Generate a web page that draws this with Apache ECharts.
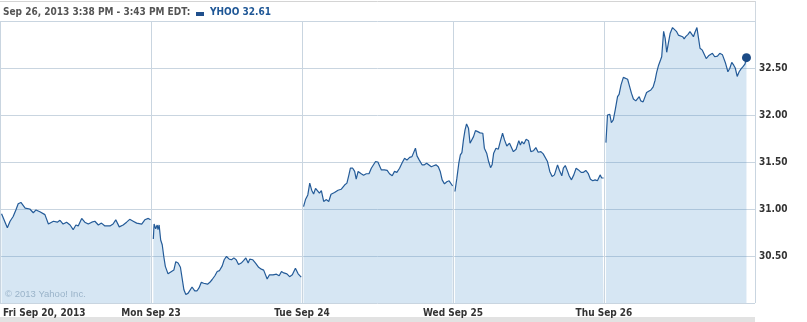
<!DOCTYPE html>
<html>
<head>
<meta charset="utf-8">
<script src="https://cdn.jsdelivr.net/npm/echarts@6/dist/echarts.min.js"></script>
<style>
html,body{margin:0;padding:0;background:#fff;}
#chart{width:807px;height:322px;}
</style>
</head>
<body>
<div id="chart"></div>
<script>
// ---- data ----
const ticker = 'YHOO';
const headerText = 'Sep 26, 2013 3:38 PM - 3:43 PM EDT:';
const copyright = '\u00A9 2013 Yahoo! Inc.';
const dayLabels = ['Fri Sep 20, 2013', 'Mon Sep 23', 'Tue Sep 24', 'Wed Sep 25', 'Thu Sep 26'];
const priceTicks = [30.5, 31.0, 31.5, 32.0, 32.5];
const minutesPerSession = 390;

// [minutes after 9:30 open, price]
const friSep20 = [[4,30.95],[9,30.96],[19,30.80],[26,30.87],[34,30.92],[41,30.99],[47,31.055],[54,31.07],[58,31.08],[65,31.01],[77,31.00],[86,30.96],[93,30.99],[103,30.97],[116,30.94],[125,30.84],[138,30.87],[148,30.86],[155,30.88],[163,30.84],[172,30.86],[181,30.83],[189,30.78],[196,30.83],[202,30.82],[211,30.90],[219,30.86],[228,30.84],[237,30.86],[245,30.87],[254,30.83],[262,30.85],[271,30.82],[284,30.82],[292,30.84],[299,30.885],[308,30.81],[318,30.83],[327,30.86],[335,30.89],[344,30.87],[353,30.85],[366,30.84],[374,30.885],[383,30.90],[389,30.885]];
const monSep23 = [[6,30.68],[8,30.84],[12,30.79],[16,30.83],[18,30.78],[21,30.83],[25,30.67],[29,30.62],[33,30.495],[37,30.39],[44,30.31],[53,30.335],[59,30.35],[64,30.44],[70,30.425],[76,30.38],[80,30.37],[85,30.14],[90,30.09],[96,30.105],[100,30.10],[106,30.17],[113,30.13],[119,30.13],[124,30.16],[130,30.22],[136,30.21],[141,30.23],[146,30.20],[152,30.22],[158,30.25],[165,30.29],[171,30.335],[177,30.345],[184,30.395],[189,30.46],[195,30.495],[202,30.467],[208,30.46],[214,30.48],[220,30.46],[226,30.41],[233,30.425],[239,30.45],[245,30.48],[251,30.425],[255,30.467],[263,30.46],[270,30.425],[278,30.38],[285,30.36],[291,30.35],[296,30.35],[300,30.255],[306,30.30],[315,30.30],[324,30.307],[331,30.29],[337,30.335],[343,30.32],[347,30.34],[351,30.31],[358,30.28],[365,30.30],[373,30.37],[380,30.31],[388,30.275]];
const tueSep24 = [[4,31.026],[9,31.10],[15,31.15],[20,31.275],[25,31.20],[30,31.16],[35,31.22],[40,31.21],[45,31.17],[50,31.196],[56,31.08],[63,31.10],[69,31.08],[75,31.157],[84,31.175],[93,31.20],[101,31.21],[110,31.255],[116,31.275],[121,31.36],[125,31.434],[131,31.434],[136,31.40],[140,31.317],[145,31.40],[153,31.375],[159,31.36],[166,31.375],[173,31.375],[179,31.434],[183,31.416],[190,31.505],[196,31.50],[200,31.48],[205,31.416],[213,31.416],[220,31.41],[226,31.375],[233,31.353],[239,31.40],[245,31.39],[252,31.434],[259,31.494],[265,31.54],[271,31.52],[278,31.55],[284,31.557],[288,31.575],[293,31.647],[297,31.565],[303,31.52],[310,31.47],[316,31.47],[322,31.487],[327,31.505],[334,31.45],[340,31.46],[346,31.47],[352,31.45],[357,31.40],[362,31.31],[368,31.267],[374,31.29],[380,31.30],[385,31.28],[389,31.245]];
const wedSep25 = [[5,31.186],[10,31.328],[15,31.487],[19,31.575],[23,31.60],[27,31.735],[31,31.84],[35,31.905],[40,31.86],[44,31.70],[48,31.706],[53,31.77],[58,31.834],[64,31.823],[70,31.81],[77,31.806],[81,31.647],[87,31.594],[92,31.505],[97,31.44],[101,31.47],[105,31.594],[111,31.647],[117,31.636],[122,31.717],[128,31.806],[133,31.735],[139,31.67],[146,31.70],[150,31.68],[156,31.61],[163,31.636],[170,31.727],[174,31.68],[178,31.717],[183,31.692],[189,31.742],[195,31.727],[201,31.61],[208,31.62],[214,31.653],[220,31.604],[227,31.61],[233,31.586],[238,31.60],[244,31.505],[250,31.40],[256,31.345],[262,31.363],[266,31.416],[270,31.47],[275,31.41],[281,31.353],[285,31.434],[290,31.462],[296,31.40],[300,31.353],[306,31.31],[312,31.363],[318,31.434],[324,31.416],[331,31.39],[337,31.39],[343,31.41],[349,31.38],[355,31.317],[361,31.30],[367,31.31],[373,31.30],[380,31.363],[384,31.33],[389,31.33]];
const thuSep26 = [[5,31.706],[9,32.00],[15,32.008],[19,31.92],[24,31.947],[29,32.054],[35,32.195],[39,32.22],[44,32.32],[50,32.40],[55,32.39],[61,32.38],[65,32.32],[71,32.23],[76,32.17],[82,32.15],[86,32.15],[91,32.195],[95,32.15],[101,32.14],[105,32.14],[110,32.24],[115,32.256],[121,32.266],[127,32.30],[132,32.37],[136,32.454],[141,32.53],[146,32.585],[149,32.62],[154,32.89],[158,32.815],[162,32.667],[166,32.76],[171,32.87],[177,32.93],[182,32.94],[187,32.89],[192,32.85],[197,32.858],[203,32.833],[207,32.81],[211,32.833],[217,32.858],[222,32.886],[227,32.87],[231,32.833],[235,32.88],[240,32.93],[244,32.82],[248,32.71],[254,32.69],[259,32.68],[264,32.60],[270,32.63],[275,32.62],[280,32.656],[286,32.62],[293,32.627],[299,32.656],[306,32.64],[310,32.63],[314,32.55],[320,32.46],[325,32.497],[330,32.56],[335,32.53],[339,32.50],[344,32.41],[349,32.46],[354,32.49],[359,32.514],[364,32.54],[368,32.61]];
const sessions = [friSep20, monSep23, tueSep24, wedSep25, thuSep26];

// ---- build series data (breaks between sessions) ----
const lineData = [];
sessions.forEach((s, d) => {
  s.forEach(([m, p]) => lineData.push([d * minutesPerSession + m, p]));
  if (d < sessions.length - 1) lineData.push([(d + 1) * minutesPerSession, '-']);
});
const lastSession = sessions[sessions.length - 1];
const lastPt = lastSession[lastSession.length - 1];
const lastPoint = [(sessions.length - 1) * minutesPerSession + lastPt[0], lastPt[1]];

const FONT = '"DejaVu Sans Condensed", "DejaVu Sans", sans-serif';
const gridColor = '#c9d5e0';

const chart = echarts.init(document.getElementById('chart'), null, {renderer: 'canvas'});
chart.setOption({
  animation: false,
  backgroundColor: '#ffffff',
  grid: {left: 0, top: 21, width: 755, height: 282, containLabel: false},
  xAxis: {
    type: 'value',
    min: 0,
    max: minutesPerSession * sessions.length,
    interval: minutesPerSession,
    axisLine: {show: false},
    axisTick: {show: false},
    splitLine: {show: true, lineStyle: {color: gridColor, width: 1}},
    axisLabel: {
      color: '#333333',
      fontFamily: FONT,
      fontWeight: 'bold',
      fontSize: 10,
      margin: 5,
      showMaxLabel: false,
      alignMinLabel: 'left',
      formatter: function (v) {
        const i = Math.round(v / minutesPerSession);
        if (i === 0) return '{first|' + dayLabels[0] + '}';
        return dayLabels[i] || '';
      },
      rich: {first: {padding: [0, 0, 0, 3], color: '#333333', fontFamily: FONT, fontWeight: 'bold', fontSize: 10}}
    }
  },
  yAxis: {
    type: 'value',
    position: 'right',
    min: 30,
    max: 33,
    interval: 0.5,
    axisLine: {show: false},
    axisTick: {show: false},
    splitLine: {show: true, lineStyle: {color: gridColor, width: 1}},
    axisLabel: {
      color: '#333333',
      fontFamily: FONT,
      fontWeight: 'bold',
      fontSize: 10,
      margin: 4,
      showMinLabel: false,
      showMaxLabel: false,
      formatter: function (v) {
        return priceTicks.some(t => Math.abs(t - v) < 1e-6) ? v.toFixed(2) : '';
      }
    }
  },
  series: [
    {
      type: 'line',
      data: lineData,
      showSymbol: false,
      symbol: 'none',
      connectNulls: false,
      lineStyle: {color: '#245b98', width: 1.2},
      areaStyle: {color: 'rgb(70,140,200)', opacity: 0.22, origin: 'start'},
      z: 2
    },
    {
      type: 'scatter',
      data: [lastPoint],
      symbolSize: 9,
      itemStyle: {color: '#1c4b86', opacity: 1},
      z: 4
    }
  ],
  graphic: [
    {type: 'line', shape: {x1: 0, y1: 1.5, x2: 755, y2: 1.5}, style: {stroke: '#d4d4d4', lineWidth: 1}, silent: true},
    {type: 'line', shape: {x1: 755.5, y1: 1, x2: 755.5, y2: 21}, style: {stroke: '#d0d8e0', lineWidth: 1}, silent: true},
    {type: 'rect', shape: {x: 0, y: 317, width: 755, height: 5}, style: {fill: '#e2e2e2'}, silent: true},
    {type: 'text', left: 3, top: 7, style: {text: headerText, fill: '#555555', font: 'bold 10px ' + FONT}, silent: true},
    {type: 'rect', shape: {x: 196, y: 12, width: 8, height: 4}, style: {fill: '#1f4f8c'}, silent: true},
    {type: 'text', left: 210, top: 7, style: {text: ticker + ' ' + lastPt[1].toFixed(2), fill: '#1f5796', font: 'bold 10px ' + FONT}, silent: true},
    {type: 'text', left: 5, top: 289, style: {text: copyright, fill: '#b3bfca', font: '9.5px "Liberation Sans", Arial, sans-serif'}, silent: true}
  ]
});
</script>
</body>
</html>
